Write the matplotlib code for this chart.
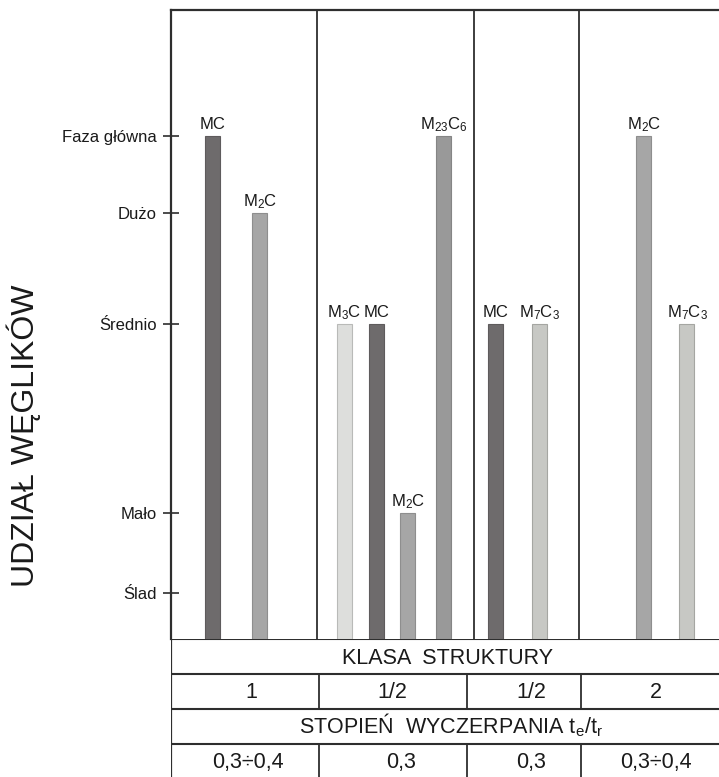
import matplotlib
matplotlib.use("Agg")
import matplotlib.pyplot as plt

plt.rcParams['font.family'] = ['Liberation Sans', 'DejaVu Sans']
plt.rcParams['mathtext.fontset'] = 'custom'
plt.rcParams['mathtext.rm'] = 'Liberation Sans'
plt.rcParams['mathtext.it'] = 'Liberation Sans:italic'
plt.rcParams['mathtext.bf'] = 'Liberation Sans:bold'
plt.rcParams['mathtext.default'] = 'regular'

# ---- data -------------------------------------------------------------
levels = ["Ślad", "Mało", "Średnio", "Dużo", "Faza główna"]
carbides = ["MC", "M2C", "M3C", "MC", "M2C", "M23C6", "MC", "M7C3", "M2C", "M7C3"]
amounts = ["Faza główna", "Dużo",
           "Średnio", "Średnio", "Mało", "Faza główna",
           "Średnio", "Średnio",
           "Faza główna", "Średnio"]
structure_class = ["1", "1/2", "1/2", "2"]
exhaustion = ["0,3÷0,4", "0,3", "0,3", "0,3÷0,4"]

# ---- layout / style -----------------------------------------------------
W, H = 719, 777
level_y = [46, 126, 315, 426, 503]          # height of each qualitative level
slot_x = [41.5, 88.7, 173, 205.5, 237, 273, 324.8, 368, 473, 516]
bar_w = 15
plot_dividers = [146, 303, 408]
table_dividers = [147.5, 296, 410]
class_text_x = [80, 221, 360, 485]
exh_text_x = [77, 230, 360, 485]

carbide_label = {"MC": "MC", "M2C": "M$_2$C", "M3C": "M$_3$C",
                 "M23C6": "M$_{23}$C$_6$", "M7C3": "M$_7$C$_3$"}
carbide_face = {"MC": "#6e6b6c", "M2C": "#a6a6a6", "M3C": "#dddedc",
                "M23C6": "#999999", "M7C3": "#c7c8c4"}
carbide_edge = {"MC": "#5e5b5c", "M2C": "#8e8e8e", "M3C": "#b9bab8",
                "M23C6": "#858585", "M7C3": "#a5a6a2"}
line_c = "#2e2e2e"


def px_rect(left, top, right, bottom):
    return [left / W, 1 - bottom / H, (right - left) / W, (bottom - top) / H]


fig = plt.figure(figsize=(W / 100, H / 100), dpi=100)
fig.patch.set_facecolor("white")

# ---- main bar area ---------------------------------------------------------
ax = fig.add_axes(px_rect(171, 10, 728, 639))
ax.set_xlim(0, 557)
ax.set_ylim(0, 629)
level_pos = dict(zip(levels, level_y))

for x, c, a in zip(slot_x, carbides, amounts):
    h = level_pos[a]
    ax.bar(x, h, width=bar_w, color=carbide_face[c], edgecolor=carbide_edge[c],
           linewidth=0.8, zorder=2)
    ax.annotate(carbide_label[c], (x, h), xytext=(0, 5), textcoords="offset points",
                ha="center", va="baseline", fontsize=12, color="#1a1a1a")

for d in plot_dividers:
    ax.axvline(d, color=line_c, lw=1.3, zorder=1)

ax.set_yticks(level_y)
ax.set_yticklabels(levels)
ax.set_xticks([])
ax.tick_params(axis="y", direction="inout", length=12, width=1.2, pad=4,
               labelsize=12, color=line_c, labelcolor="#1a1a1a")
for side in ["right", "bottom"]:
    ax.spines[side].set_visible(False)
for side in ["left", "top"]:
    ax.spines[side].set_color(line_c)
    ax.spines[side].set_linewidth(1.6)

fig.text(24 / W, 1 - 436 / H, "UDZIAŁ WĘGLIKÓW", rotation=90, ha="center",
         va="center", fontsize=23, color="#1a1a1a")

# ---- table below --------------------------------------------------------------
tb = fig.add_axes(px_rect(171, 639, 728, 779))
tb.set_xlim(0, 557)
tb.set_ylim(140, 0)
tb.axis("off")
rows = [0, 34.5, 69.5, 104.5, 140]
for y in rows[:4]:
    tb.axhline(y, color=line_c, lw=1.5)
tb.axvline(0, color=line_c, lw=1.6)
for d in table_dividers:
    tb.plot([d, d], [rows[1], rows[2]], color=line_c, lw=1.3)
    tb.plot([d, d], [rows[3], rows[4]], color=line_c, lw=1.3)

txt_kw = dict(ha="center", va="baseline", fontsize=15.5, color="#1a1a1a")
tb.text(277, 25, "KLASA  STRUKTURY", **txt_kw)
for x, s in zip(class_text_x, structure_class):
    tb.text(x, 59, s, **txt_kw)
tb.text(280, 94, "STOPIEŃ  WYCZERPANIA t$_e$/t$_r$", **txt_kw)
for x, s in zip(exh_text_x, exhaustion):
    tb.text(x, 129, s, **txt_kw)

fig.savefig("out.png", dpi=100)
